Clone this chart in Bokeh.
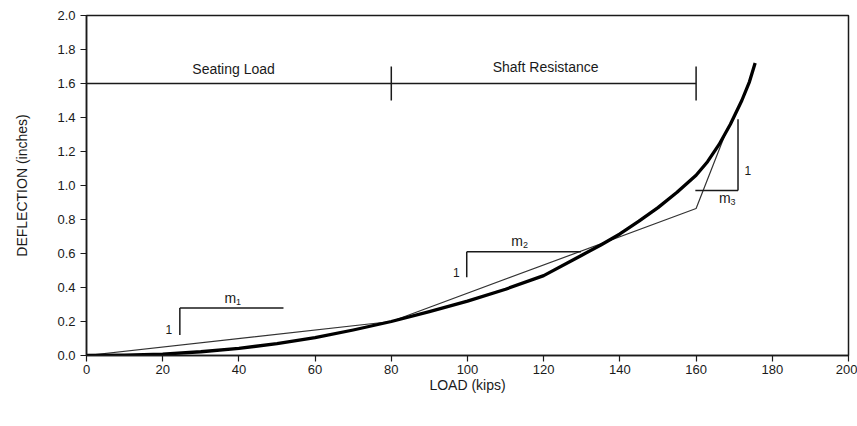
from bokeh.plotting import figure
from bokeh.models import Range1d, FixedTicker, PrintfTickFormatter
from bokeh.core.properties import value
from bokeh.embed import file_html
from bokeh.resources import INLINE

# Measured load-deflection curve
load = [0, 10, 20, 30, 40, 50, 60, 70, 80, 90, 100, 110, 120, 130, 135, 140, 145, 150, 155, 160, 163, 166, 169, 172, 174, 175.5]
deflection = [0, 0.002, 0.008, 0.022, 0.042, 0.07, 0.105, 0.15, 0.2, 0.258, 0.32, 0.39, 0.47, 0.59, 0.65, 0.715, 0.79, 0.87, 0.96, 1.06, 1.14, 1.24, 1.36, 1.5, 1.61, 1.72]

# Piecewise linear fit (thin line)
fit_load = [0, 80, 160, 168.3]
fit_defl = [0, 0.2, 0.865, 1.34]

# Phase bar
phase_y = 1.6
phase_start = 0
phase_breaks = [80, 160]
phase_labels = ["Seating Load", "Shaft Resistance"]
phase_label_x = [38.6, 120.5]
phase_label_y = [1.685, 1.695]

# Slope triangles: vertical leg x, low y, high y, horizontal end x
tri_x = [24.5, 99.8, 171]
tri_ylow = [0.12, 0.46, 0.97]
tri_yhigh = [0.28, 0.61, 1.39]
tri_hx = [51.7, 129.8, 159.8]
tri_hy = [0.28, 0.61, 0.97]
slope_names = ["m", "m", "m"]
slope_subs = ["1", "2", "3"]
slope_lx = [38.2, 113.5, 168.0]
slope_ly = [0.34, 0.675, 0.925]
one_x = [21.6, 97.1, 173.6]
one_y = [0.155, 0.49, 1.09]

x_ticks = list(range(0, 201, 20))
y_ticks = [round(0.2 * i, 1) for i in range(11)]

FONT = "Liberation Sans"
INK = "#1a1a1a"

p = figure(width=857, height=426, output_backend="svg", toolbar_location=None,
           x_range=Range1d(0, 200), y_range=Range1d(0, 2.0),
           min_border_left=86, min_border_right=9, min_border_top=15, min_border_bottom=71)
p.frame_width = 762
p.frame_height = 340

p.xgrid.visible = False
p.ygrid.visible = False
p.outline_line_color = INK
p.outline_line_width = 1.5
p.background_fill_color = "white"
p.border_fill_color = "white"

for ax in (p.xaxis[0], p.yaxis[0]):
    ax.axis_line_color = INK
    ax.axis_line_width = 1.5
    ax.major_tick_line_color = INK
    ax.major_tick_line_width = 1.2
    ax.major_tick_out = 6
    ax.major_tick_in = 0
    ax.minor_tick_line_color = None
    ax.major_label_text_font = FONT
    ax.major_label_text_font_size = "13px"
    ax.major_label_text_color = INK
    ax.axis_label_text_font = FONT
    ax.axis_label_text_font_size = "14px"
    ax.axis_label_text_font_style = "normal"
    ax.axis_label_text_color = INK

p.xaxis.ticker = FixedTicker(ticks=x_ticks)
p.yaxis.ticker = FixedTicker(ticks=y_ticks)
p.yaxis.formatter = PrintfTickFormatter(format="%.1f")
p.xaxis.axis_label = "LOAD (kips)"
p.yaxis.axis_label = "DEFLECTION (inches)"
p.xaxis.major_label_standoff = 3
p.xaxis.axis_label_standoff = 0
p.yaxis.axis_label_standoff = 24

# thin fit line
p.line(fit_load, fit_defl, line_color="#333333", line_width=1.2)
# thick curve
p.line(load, deflection, line_color="black", line_width=3.3, line_join="round")

# phase bar
p.line([phase_start, phase_breaks[-1]], [phase_y, phase_y], line_color=INK, line_width=1.5)
p.segment(x0=phase_breaks, y0=[phase_y - 0.1] * 2, x1=phase_breaks, y1=[phase_y + 0.1] * 2,
          line_color=INK, line_width=1.5)
p.text(x=phase_label_x, y=phase_label_y, text=phase_labels, text_font=value(FONT),
       text_font_size="14px", text_color=INK, text_align="center", text_baseline="middle")

# slope triangles
p.segment(x0=tri_x, y0=tri_ylow, x1=tri_x, y1=tri_yhigh, line_color=INK, line_width=1.5)
p.segment(x0=tri_x, y0=tri_hy, x1=tri_hx, y1=tri_hy, line_color=INK, line_width=1.5)
p.text(x=slope_lx, y=slope_ly, text=slope_names, text_font=value(FONT),
       text_font_size="14px", text_color=INK, text_align="right", text_baseline="middle",
       x_offset=4)
p.text(x=slope_lx, y=slope_ly, text=slope_subs, text_font=value(FONT),
       text_font_size="9px", text_color=INK, text_align="left", text_baseline="middle",
       x_offset=4, y_offset=4)
p.text(x=one_x, y=one_y, text=["1", "1", "1"], text_font=value(FONT),
       text_font_size="12px", text_color=INK, text_align="center", text_baseline="middle")

open("out.html", "w").write(file_html(p, INLINE))
